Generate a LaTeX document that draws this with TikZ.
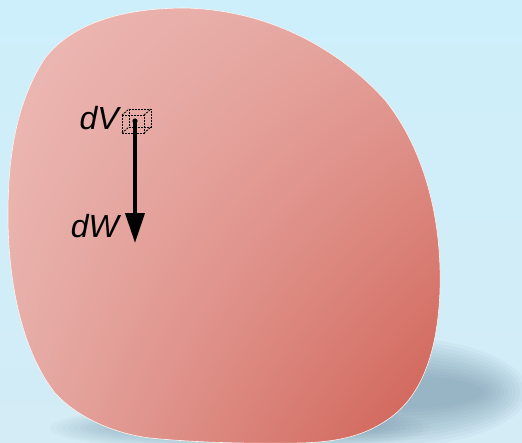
\documentclass[tikz,border=0pt]{standalone}
\usepackage{fontspec}
\setmainfont{Liberation Sans}
\usetikzlibrary{arrows.meta,shadings}
\definecolor{bgtop}{HTML}{CDEFFB}
\definecolor{bgbot}{HTML}{D3ECF6}
\definecolor{blobUL}{HTML}{EDBAB6}
\definecolor{blobUR}{HTML}{E3A099}
\definecolor{blobLL}{HTML}{E6ABA5}
\definecolor{blobLR}{HTML}{CF5E52}
\definecolor{shad}{HTML}{5E7F96}
\tikzset{
  lbl/.style={font=\itshape\fontsize{32}{32}\selectfont, inner sep=0pt, anchor=base east},
  dashbox/.style={draw=black, dashed, dash pattern=on 1.8pt off 1.2pt, line width=0.9pt},
}
\begin{document}
\begin{tikzpicture}[x=1pt,y=-1pt]
\useasboundingbox (0,0) rectangle (522,442);
\shade[top color=bgtop, bottom color=bgbot] (0,0) rectangle (522,442);
% shadow
\begin{scope}
\clip (0,0) rectangle (522,442);
\foreach \i in {0,...,11}{
  \fill[shad, opacity=0.05] (380,392) ellipse ({148-4*\i} and {56-3.5*\i});
  \fill[shad, opacity=0.035] (240,428) ellipse ({190-6*\i} and {24-1.5*\i});
}
\end{scope}
% blob
\path[shade, upper left=blobUL, upper right=blobUR, lower left=blobLL, lower right=blobLR, draw=white!85!blobUL, line width=0.6pt]
 (185,8) .. controls (270,10) and (340,50) .. (385,100)
 .. controls (425,150) and (442,220) .. (440,290)
 .. controls (438,345) and (425,395) .. (387,420)
 .. controls (365,435) and (340,442) .. (300,443)
 .. controls (240,444) and (190,442) .. (150,438)
 .. controls (110,433) and (75,415) .. (55,393)
 .. controls (25,355) and (8,290) .. (8,215)
 .. controls (8,150) and (18,100) .. (45,58)
 .. controls (75,20) and (130,8) .. (185,8) -- cycle;
% element
\coordinate (c) at (135,121);
\draw[dashbox] (129,109) rectangle (151,127);
\draw[dashbox] (122,115) rectangle (144,133);
\draw[dashbox] (122,115) -- (129,109) (144,115) -- (151,109) (144,133) -- (151,127) (122,133) -- (129,127);
\fill (c) circle (2.6);
\coordinate (tip) at (135,243);
\draw[line width=4pt, -{Triangle[length=30pt,width=19pt]}] (c) -- (tip);
\node[lbl] (dv) at (119,129) {dV};
\node[lbl] (dw) at (119,237) {dW};
\end{tikzpicture}
\end{document}
